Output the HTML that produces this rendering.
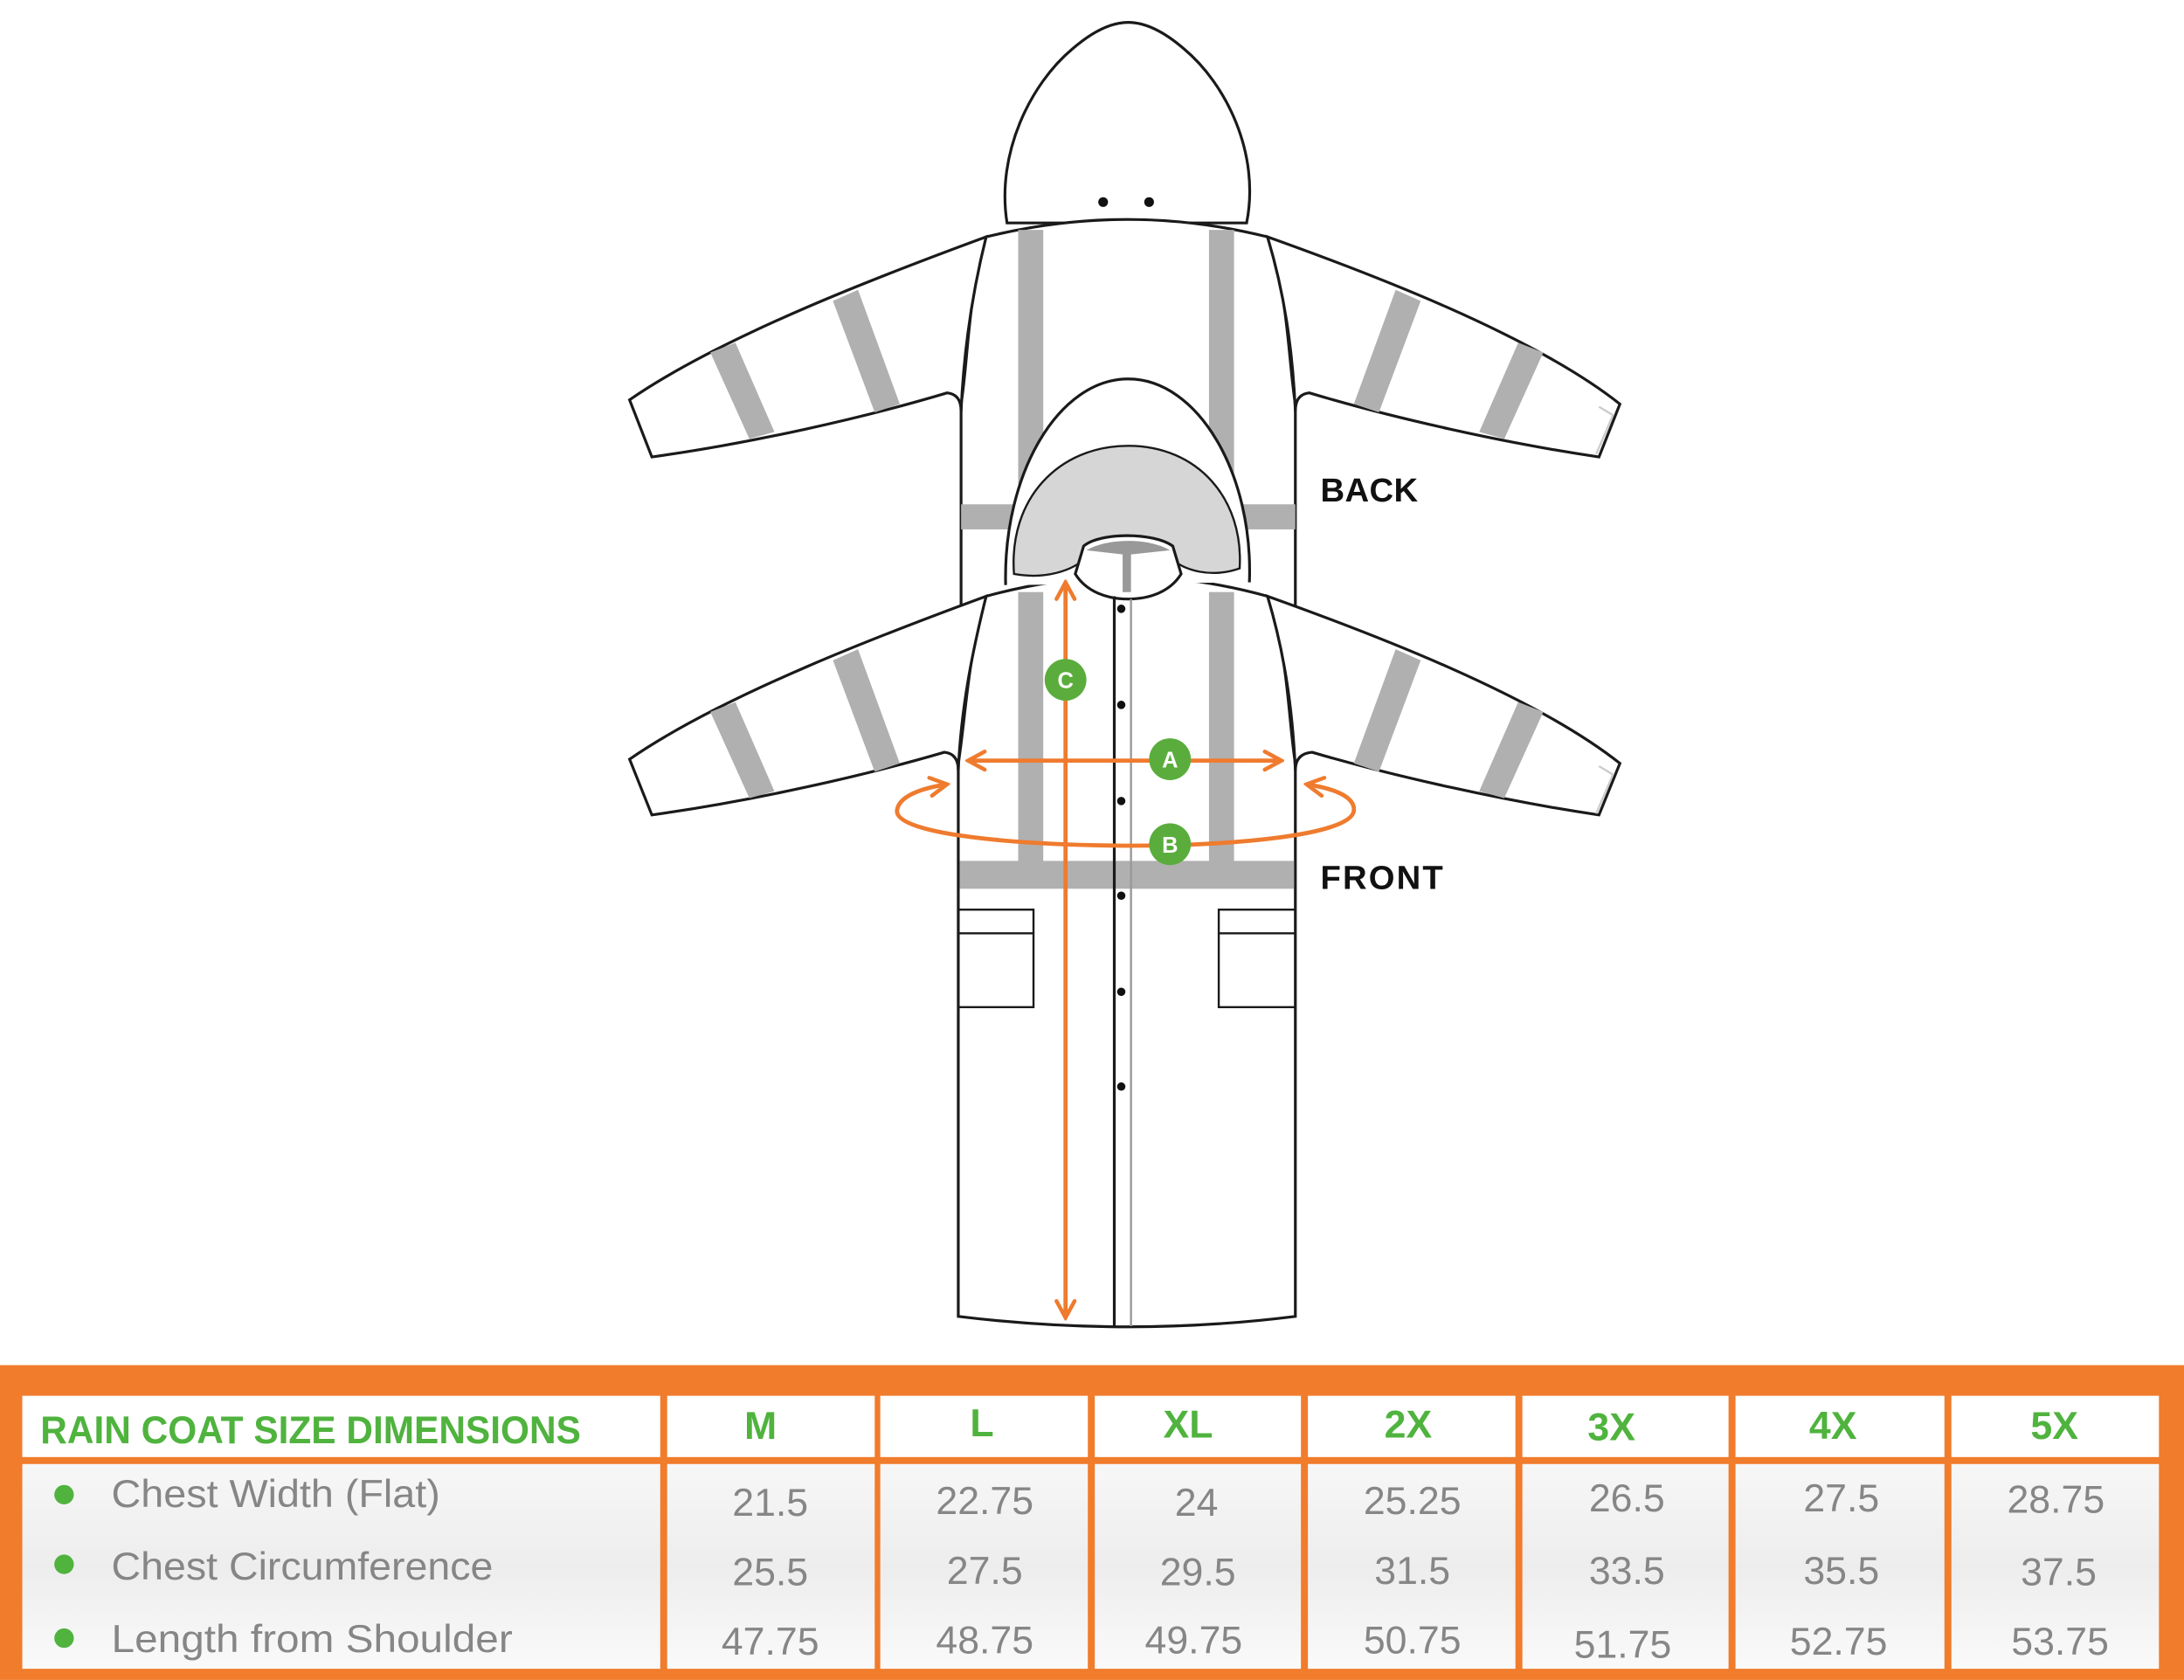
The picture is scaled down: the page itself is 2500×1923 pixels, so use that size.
<!DOCTYPE html>
<html><head><meta charset="utf-8"><style>
html,body{margin:0;padding:0;background:#fff;}
svg{display:block;}
</style></head><body>
<svg width="2500" height="1923" viewBox="0 0 1568 1206" xmlns="http://www.w3.org/2000/svg">
<defs>
<linearGradient id="rowg" x1="0" y1="0" x2="0" y2="1">
<stop offset="0" stop-color="#f7f7f7"/><stop offset="0.5" stop-color="#ededed"/><stop offset="1" stop-color="#fafafa"/>
</linearGradient>
<marker id="ah" viewBox="0 0 16 16" refX="14" refY="8" markerWidth="16" markerHeight="16" markerUnits="userSpaceOnUse" orient="auto-start-reverse">
<path d="M2,1.5 L14,8 L2,14.5" fill="none" stroke="#ef7b2e" stroke-width="2.8" stroke-linecap="round"/>
</marker>
</defs>
<rect width="1568" height="1206" fill="#fff"/>

<!-- BACK COAT -->
<g stroke="#1a1a1a" stroke-width="2" fill="#fff">
<path d="M723,160 C715,110 740,60 770,35 C785,22 798,16 810,16 C822,16 835,22 850,35 C880,60 905,110 895,160 Z"/>
<path d="M708,170 Q810,145 910,170 C925,210 925,260 930,290 L930,440 L690,440 L690,290 C695,260 695,210 708,170 Z"/>
<path d="M708,170 C640,195 520,240 452,287 L468,328 C540,318 620,300 680,282 Q690,283 690,295 C692,250 698,210 708,170 Z"/>
<path d="M910,170 C980,195 1100,240 1163,290 L1148,328 C1080,318 1000,300 940,282 Q930,283 930,295 C928,250 922,210 910,170 Z"/>
</g>
<g fill="#b0b0b0">
<rect x="731" y="165" width="18" height="205"/>
<rect x="868" y="165" width="18" height="205"/>
<rect x="690" y="362" width="240" height="18"/>
<polygon points="510,253 528,246 556,310 538,315"/>
<polygon points="598,216 616,208 646,290 628,296"/>
<polygon points="1108,253 1090,246 1062,310 1080,315"/>
<polygon points="1020,216 1002,208 972,290 990,296"/>
</g>
<path d="M1148,292 L1158,298 L1146,326" fill="none" stroke="#ccc" stroke-width="1.5"/>
<circle cx="792" cy="145" r="3.5" fill="#111"/><circle cx="825" cy="145" r="3.5" fill="#111"/>

<!-- FRONT COAT -->
<g stroke="#1a1a1a" stroke-width="2" fill="#fff">
<path d="M708,428 Q810,400 910,428 C925,468 925,518 930,548 L930,945 Q810,960 688,945 L688,548 C693,518 695,468 708,428 Z"/>
<path d="M708,428 C640,453 520,498 452,545 L468,585 C540,575 620,557 678,540 Q688,541 688,553 C690,508 698,468 708,428 Z"/>
<path d="M910,428 C980,453 1100,498 1163,548 L1148,585 C1080,575 1000,557 942,540 Q930,541 930,553 C928,508 922,468 910,428 Z"/>
</g>
<g fill="#b0b0b0">
<rect x="731" y="425" width="18" height="200"/>
<rect x="868" y="425" width="18" height="200"/>
<rect x="689" y="618" width="240" height="20"/>
<polygon points="510,511 528,504 556,568 538,573"/>
<polygon points="598,474 616,466 646,548 628,554"/>
<polygon points="1108,511 1090,504 1062,568 1080,573"/>
<polygon points="1020,474 1002,466 972,548 990,554"/>
</g>
<path d="M1148,550 L1158,556 L1146,584" fill="none" stroke="#ccc" stroke-width="1.5"/>
<!-- front hood -->
<path d="M722,420 C720,340 760,272 810,272 C860,272 900,340 897,418" fill="#fff" stroke="#1a1a1a" stroke-width="2"/>
<path d="M728,412 C724,358 760,320 810,320 C860,320 893,358 890,408 C870,415 850,410 840,400 L780,400 C770,410 750,416 728,412 Z" fill="#d6d6d6" stroke="#1a1a1a" stroke-width="1.5"/>
<path d="M772,412 L778,392 C790,382 828,382 842,392 L848,412 C840,425 825,430 810,430 C795,430 780,425 772,412 Z" fill="#fff" stroke="#1a1a1a" stroke-width="2"/>
<path d="M780,395 C795,386 825,386 840,395 L812,398 L812,425 L806,425 L806,398 Z" fill="#999"/>
<line x1="800" y1="428" x2="800" y2="952" stroke="#1a1a1a" stroke-width="2"/>
<line x1="812" y1="430" x2="812" y2="952" stroke="#999" stroke-width="1.5"/>
<g fill="#111"><circle cx="805" cy="437" r="3"/><circle cx="805" cy="506" r="3"/><circle cx="805" cy="575" r="3"/><circle cx="805" cy="643" r="3"/><circle cx="805" cy="712" r="3"/><circle cx="805" cy="780" r="3"/></g>
<g fill="none" stroke="#1a1a1a" stroke-width="1.5">
<rect x="688" y="653" width="54" height="70"/><line x1="688" y1="670" x2="742" y2="670"/>
<rect x="875" y="653" width="55" height="70"/><line x1="875" y1="670" x2="930" y2="670"/>
</g>

<!-- measurements -->
<g stroke="#ef7b2e" stroke-width="3" fill="none">
<line x1="765" y1="946" x2="765" y2="418" marker-end="url(#ah)" marker-start="url(#ah)"/>
<line x1="695" y1="546" x2="920" y2="546" marker-end="url(#ah)" marker-start="url(#ah)"/>
<path d="M680,563 C660,566 645,572 644,582 C643,598 720,606 800,607 C880,608 970,600 972,582 C973,572 958,566 938,563" marker-end="url(#ah)" marker-start="url(#ah)"/>
</g>
<g font-family="Liberation Sans, sans-serif" font-weight="bold" font-size="16" fill="#fff" text-anchor="middle">
<circle cx="765" cy="488" r="15" fill="#5aad3c"/><text x="765" y="494">C</text>
<circle cx="840" cy="545" r="15" fill="#5aad3c"/><text x="840" y="551">A</text>
<circle cx="840" cy="606" r="15" fill="#5aad3c"/><text x="840" y="612">B</text>
</g>
<g font-family="Liberation Sans, sans-serif" font-weight="bold" font-size="24" fill="#111">
<text x="948" y="360" textLength="70">BACK</text>
<text x="948" y="638" textLength="88">FRONT</text>
</g>

<!-- TABLE -->
<rect x="0" y="980" width="1568" height="226" fill="#f07c2c"/>
<g fill="#fff">
<rect x="16" y="1002" width="458" height="44"/>
<rect x="479" y="1002" width="149" height="44"/>
<rect x="632" y="1002" width="149" height="44"/>
<rect x="786" y="1002" width="148" height="44"/>
<rect x="939" y="1002" width="149" height="44"/>
<rect x="1093" y="1002" width="148" height="44"/>
<rect x="1246" y="1002" width="150" height="44"/>
<rect x="1401" y="1002" width="149" height="44"/>
</g>
<g fill="url(#rowg)">
<rect x="16" y="1051" width="458" height="147"/>
<rect x="479" y="1051" width="149" height="147"/>
<rect x="632" y="1051" width="149" height="147"/>
<rect x="786" y="1051" width="148" height="147"/>
<rect x="939" y="1051" width="149" height="147"/>
<rect x="1093" y="1051" width="148" height="147"/>
<rect x="1246" y="1051" width="150" height="147"/>
<rect x="1401" y="1051" width="149" height="147"/>
</g>
<g font-family="Liberation Sans, sans-serif" font-weight="bold" font-size="28" fill="#4fb33e">
<text x="29" y="1036" textLength="388" lengthAdjust="spacingAndGlyphs">RAIN COAT SIZE DIMENSIONS</text>
<g text-anchor="middle">
<text x="546" y="1033">M</text><text x="705" y="1031">L</text><text x="853" y="1032">XL</text>
<text x="1011" y="1032">2X</text><text x="1157" y="1034">3X</text><text x="1316" y="1033">4X</text><text x="1475" y="1033">5X</text>
</g>
</g>
<g fill="#4fb33e"><circle cx="46" cy="1073" r="7"/><circle cx="46" cy="1123" r="7"/><circle cx="46" cy="1176" r="7"/></g>
<g font-family="Liberation Sans, sans-serif" font-size="28" fill="#868686">
<text x="80" y="1082" textLength="236" lengthAdjust="spacingAndGlyphs">Chest Width  (Flat)</text>
<text x="80" y="1134" textLength="274" lengthAdjust="spacingAndGlyphs">Chest Circumference</text>
<text x="80" y="1186" textLength="288" lengthAdjust="spacingAndGlyphs">Length from Shoulder</text>
<g text-anchor="middle">
<text x="553" y="1088">21.5</text><text x="707" y="1087">22.75</text><text x="859" y="1088">24</text><text x="1014" y="1087">25.25</text><text x="1168" y="1085">26.5</text><text x="1322" y="1085">27.5</text><text x="1476" y="1086">28.75</text>
<text x="553" y="1138">25.5</text><text x="707" y="1137">27.5</text><text x="860" y="1138">29.5</text><text x="1014" y="1137">31.5</text><text x="1168" y="1137">33.5</text><text x="1322" y="1137">35.5</text><text x="1478" y="1138">37.5</text>
<text x="553" y="1188">47.75</text><text x="707" y="1187">48.75</text><text x="857" y="1187">49.75</text><text x="1014" y="1187">50.75</text><text x="1165" y="1190">51.75</text><text x="1320" y="1188">52.75</text><text x="1479" y="1188">53.75</text>
</g>
</g>
</svg>
</body></html>
